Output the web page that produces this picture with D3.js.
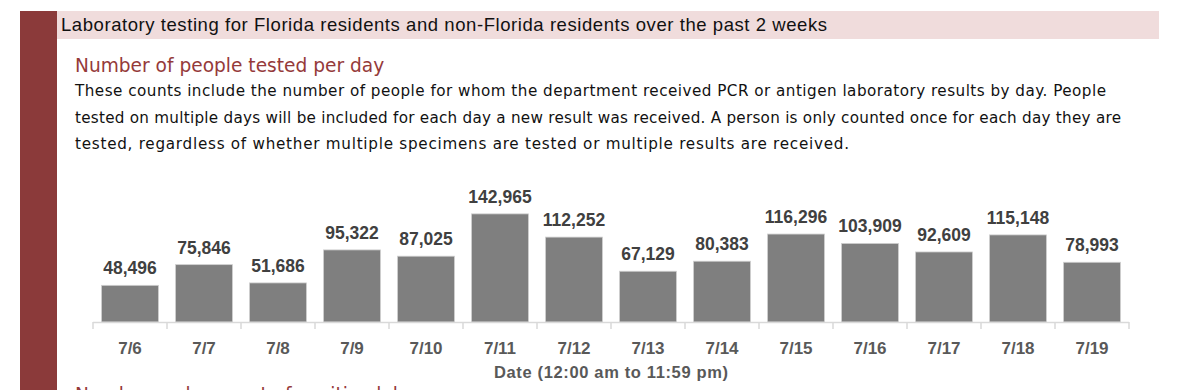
<!DOCTYPE html>
<html>
<head>
<meta charset="utf-8">
<script src="https://cdn.jsdelivr.net/npm/d3@7"></script>
<style>
  body { margin: 0; background: #fff; }
  svg { display: block; }
</style>
</head>
<body>
<div id="chart"></div>
<script>
const dates = ["7/6", "7/7", "7/8", "7/9", "7/10", "7/11", "7/12", "7/13", "7/14", "7/15", "7/16", "7/17", "7/18", "7/19"];
const tested = [48496, 75846, 51686, 95322, 87025, 142965, 112252, 67129, 80383, 116296, 103909, 92609, 115148, 78993];

const header = "Laboratory testing for Florida residents and non-Florida residents over the past 2 weeks";
const subtitle = "Number of people tested per day";
const note = [
    "These counts include the number of people for whom the department received PCR or antigen laboratory results by day. People",
    "tested on multiple days will be included for each day a new result was received. A person is only counted once for each day they are",
    "tested, regardless of whether multiple specimens are tested or multiple results are received."
];
const noteWidths = [1031, 1046, 774];
const xTitle = "Date (12:00 am to 11:59 pm)";
const nextTitle = "Number and percent of positive labs";

const width = 1200;
const height = 390;

const svg = d3.select("#chart").append("svg")
    .attr("width", width)
    .attr("height", height);

// side band and header strip
svg.append("rect")
    .attr("x", 20).attr("y", 11)
    .attr("width", 37).attr("height", height - 11)
    .attr("fill", "#8b3a3a");

svg.append("rect")
    .attr("x", 57).attr("y", 11)
    .attr("width", 1102).attr("height", 28)
    .attr("fill", "#f0dcdc");

svg.append("text")
    .attr("x", 61).attr("y", 31)
    .attr("font-family", "Liberation Sans, Arial, sans-serif")
    .attr("font-size", 18.5)
    .attr("textLength", 766)
    .attr("lengthAdjust", "spacing")
    .attr("fill", "#111")
    .text(header);

svg.append("text")
    .attr("x", 75).attr("y", 72)
    .attr("font-family", "DejaVu Sans, Verdana, sans-serif")
    .attr("font-size", 18.6)
    .attr("fill", "#953a3a")
    .text(subtitle);

svg.selectAll(".note")
    .data(note)
    .enter().append("text")
    .attr("class", "note")
    .attr("x", 75)
    .attr("y", (d, i) => 96 + i * 26.5)
    .attr("font-family", "DejaVu Sans, Verdana, sans-serif")
    .attr("font-size", 15.2)
    .attr("textLength", (d, i) => noteWidths[i])
    .attr("lengthAdjust", "spacing")
    .attr("fill", "#111")
    .text(d => d);

// chart
const x = d3.scaleBand()
    .domain(dates)
    .range([93, 1129])
    .paddingInner(0.23)
    .paddingOuter(0.115);

const y = d3.scaleLinear()
    .domain([0, 160000])
    .range([322, 201]);

const g = svg.append("g");

g.selectAll(".bar")
    .data(tested)
    .enter().append("rect")
    .attr("class", "bar")
    .attr("x", (d, i) => x(dates[i]))
    .attr("y", d => y(d))
    .attr("width", x.bandwidth())
    .attr("height", d => y(0) - y(d))
    .attr("fill", "#7f7f7f")
    .attr("stroke", "#d0d0d0")
    .attr("stroke-width", 0.8);

g.selectAll(".val")
    .data(tested)
    .enter().append("text")
    .attr("class", "val")
    .attr("x", (d, i) => x(dates[i]) + x.bandwidth() / 2)
    .attr("y", d => y(d) - 11)
    .attr("text-anchor", "middle")
    .attr("font-family", "Liberation Sans, Arial, sans-serif")
    .attr("font-weight", "bold")
    .attr("font-size", 17.5)
    .attr("fill", "#404040")
    .text(d => d3.format(",")(d));

// axis with ticks at band boundaries
const edges = d3.range(dates.length + 1).map(i => 93 + i * (1129 - 93) / dates.length);

g.append("line")
    .attr("x1", 93).attr("x2", 1129)
    .attr("y1", 322.5).attr("y2", 322.5)
    .attr("stroke", "#d9d9d9")
    .attr("stroke-width", 1.5);

g.selectAll(".tick")
    .data(edges)
    .enter().append("line")
    .attr("class", "tick")
    .attr("x1", d => d).attr("x2", d => d)
    .attr("y1", 322).attr("y2", 329)
    .attr("stroke", "#d9d9d9")
    .attr("stroke-width", 1.5);

g.selectAll(".xlab")
    .data(dates)
    .enter().append("text")
    .attr("class", "xlab")
    .attr("x", d => x(d) + x.bandwidth() / 2)
    .attr("y", 354)
    .attr("text-anchor", "middle")
    .attr("font-family", "Liberation Sans, Arial, sans-serif")
    .attr("font-weight", "bold")
    .attr("font-size", 17)
    .attr("fill", "#595959")
    .text(d => d);

g.append("text")
    .attr("x", 611).attr("y", 378)
    .attr("text-anchor", "middle")
    .attr("font-family", "Liberation Sans, Arial, sans-serif")
    .attr("font-weight", "bold")
    .attr("font-size", 16.5)
    .attr("textLength", 234)
    .attr("lengthAdjust", "spacing")
    .attr("fill", "#595959")
    .text(xTitle);

svg.append("text")
    .attr("x", 75).attr("y", 401)
    .attr("font-family", "DejaVu Sans, Verdana, sans-serif")
    .attr("font-size", 18.6)
    .attr("fill", "#953a3a")
    .text(nextTitle);
</script>
</body>
</html>
